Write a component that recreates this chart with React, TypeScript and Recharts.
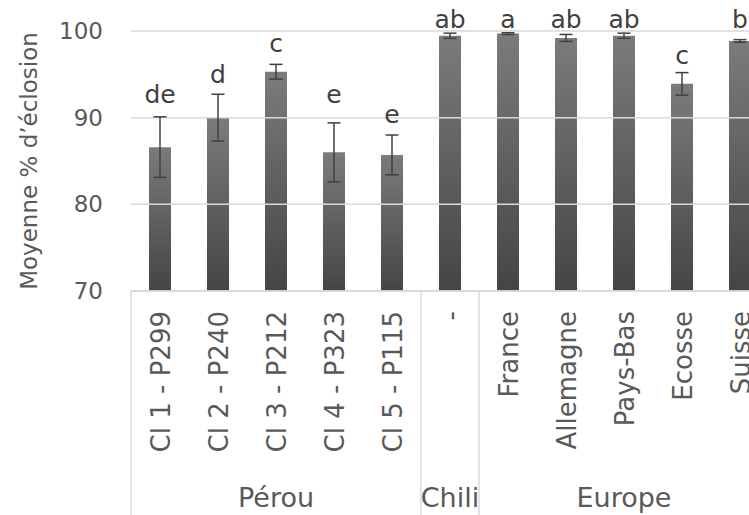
import React from "react";
import {
  ComposedChart,
  Bar,
  Line,
  XAxis,
  YAxis,
  ReferenceLine,
  ErrorBar,
  LabelList,
} from "recharts";

const categories = [
  "Cl 1 - P299",
  "Cl 2 - P240",
  "Cl 3 - P212",
  "Cl 4 - P323",
  "Cl 5 - P115",
  "-",
  "France",
  "Allemagne",
  "Pays-Bas",
  "Ecosse",
  "Suisse",
];
const groups = [
  "Pérou",
  "Pérou",
  "Pérou",
  "Pérou",
  "Pérou",
  "Chili",
  "Europe",
  "Europe",
  "Europe",
  "Europe",
  "Europe",
];
const means = [86.6, 90.0, 95.3, 86.0, 85.7, 99.45, 99.7, 99.2, 99.45, 93.9, 98.85];
const errors = [3.5, 2.7, 0.85, 3.4, 2.3, 0.3, 0.1, 0.4, 0.3, 1.3, 0.15];
const letters = ["de", "d", "c", "e", "e", "ab", "a", "ab", "ab", "c", "b"];
// where each letter sits (baseline, in % units)
const letterPos = [91.65, 94.05, 97.6, 91.7, 89.4, 100.3, 100.3, 100.3, 100.3, 96.25, 100.3];
const yTicks = [70, 80, 90, 100];

const FONT = "'DejaVu Sans', sans-serif";
const TEXT = "#595959";
const LINE = "#d9d9d9";

const data = categories.map((name, i) => ({
  name,
  group: groups[i],
  mean: means[i],
  err: errors[i],
  letter: letters[i],
  letterY: letterPos[i],
}));

function CategoryTick(props: any) {
  const { x, y, payload } = props;
  const i: number = payload.index;
  const half: number = payload.offset || 29;
  const g = groups[i];
  const first = groups.indexOf(g);
  const last = groups.lastIndexOf(g);
  const isStart = i === first;
  const isMid = i === Math.floor((first + last) / 2);
  return (
    <g>
      <text
        transform={`translate(${x + 1},${y + 20}) rotate(-90)`}
        textAnchor="end"
        dy="0.36em"
        fill={TEXT}
        fontSize={26}
        fontFamily={FONT}
      >
        {payload.value}
      </text>
      {isStart && (
        <line x1={x - half} x2={x - half} y1={y} y2={y + 230} stroke={LINE} strokeWidth={1.5} />
      )}
      {isMid && (
        <text x={x} y={y + 216} textAnchor="middle" fill={TEXT} fontSize={27} fontFamily={FONT}>
          {g}
        </text>
      )}
    </g>
  );
}

function renderLetter(props: any) {
  const { x, y, value } = props;
  return (
    <text x={x} y={y} textAnchor="middle" fill="#404040" fontSize={25} fontFamily={FONT}>
      {value}
    </text>
  );
}

function renderTitle(props: any) {
  const vb = props.viewBox;
  const cx = 29;
  const cy = vb.y + vb.height / 2 + 13;
  return (
    <text
      transform={`translate(${cx},${cy}) rotate(-90)`}
      textAnchor="middle"
      dy="0.36em"
      fill={TEXT}
      fontSize={23}
      fontFamily={FONT}
    >
      Moyenne % d’éclosion
    </text>
  );
}

export default function App() {
  return (
    <div
      style={{
        position: "fixed",
        left: 0,
        top: 0,
        width: 749,
        height: 515,
        overflow: "hidden",
        background: "#fff",
      }}
    >
      <ComposedChart
        width={769}
        height={515}
        data={data}
        margin={{ top: 5, right: 0, bottom: 0, left: 0 }}
      >
        <defs>
          <linearGradient id="barGrad" x1="0" y1="0" x2="0" y2="1">
            <stop offset="0%" stopColor="#7b7b7b" />
            <stop offset="100%" stopColor="#454545" />
          </linearGradient>
        </defs>
        {yTicks.map((t) => (
          <ReferenceLine key={t} y={t} stroke={LINE} strokeWidth={1.5} />
        ))}
        <XAxis
          dataKey="name"
          interval={0}
          height={224}
          tickLine={false}
          tickSize={0}
          tickMargin={0}
          axisLine={{ stroke: LINE, strokeWidth: 1.5 }}
          tick={<CategoryTick />}
        />
        <YAxis
          width={131}
          domain={[70, 103]}
          ticks={yTicks}
          allowDataOverflow
          axisLine={false}
          tickLine={false}
          tickSize={20}
          tickMargin={8}
          tick={{ fill: TEXT, fontSize: 23, fontFamily: FONT }}
          label={{ content: renderTitle }}
        />
        <Bar dataKey="mean" barSize={22} fill="url(#barGrad)" isAnimationActive={false}>
          <ErrorBar dataKey="err" width={6.5} stroke="#404040" strokeWidth={1.5} direction="y" />
        </Bar>
        <Line
          dataKey="letterY"
          stroke="none"
          dot={false}
          activeDot={false}
          legendType="none"
          isAnimationActive={false}
        >
          <LabelList dataKey="letter" content={renderLetter} />
        </Line>
      </ComposedChart>
    </div>
  );
}
